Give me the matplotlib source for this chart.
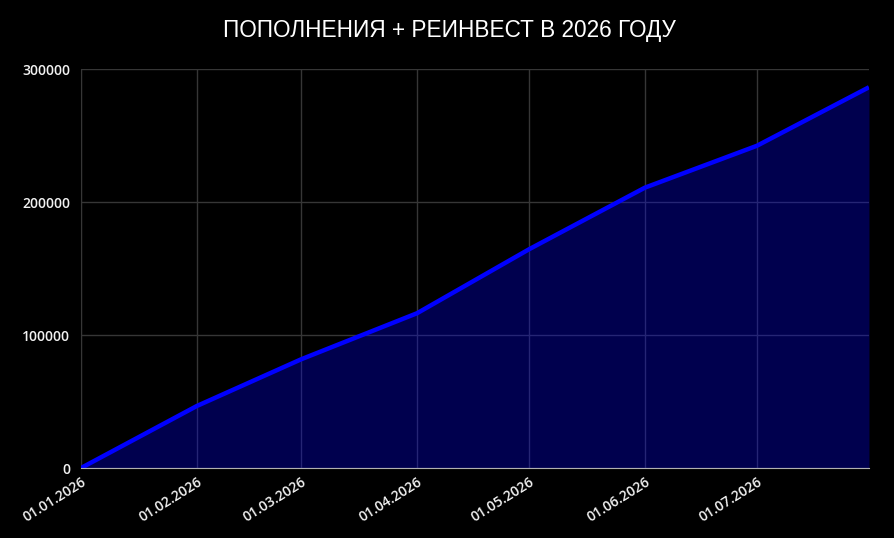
import matplotlib.pyplot as plt
import matplotlib.dates as mdates
import pandas as pd

# data
dates = ['2026-01-01', '2026-02-01', '2026-03-01', '2026-04-01',
         '2026-05-01', '2026-06-01', '2026-07-01', '2026-07-31']
values = [0, 46600, 81800, 116400, 164500, 210800, 242300, 286300]
tick_dates = ['2026-01-01', '2026-02-01', '2026-03-01', '2026-04-01',
              '2026-05-01', '2026-06-01', '2026-07-01']
yticks = [0, 100000, 200000, 300000]
title = 'ПОПОЛНЕНИЯ + РЕИНВЕСТ В 2026 ГОДУ'

x = pd.to_datetime(dates)
xt = pd.to_datetime(tick_dates)

fig = plt.figure(figsize=(8.94, 5.38), dpi=100, facecolor='black')
ax = fig.add_axes([0.0906, 0.1301, 0.8814, 0.7416])
ax.set_facecolor('black')

ax.fill_between(x, values, 0, color='#0000ff', alpha=0.31, linewidth=0, zorder=1)
ax.plot(x, values, color='#0000ff', linewidth=3.2, solid_capstyle='butt', zorder=3)

ax.set_xlim(x[0], x[-1])
ax.set_ylim(0, 300000)
ax.set_xticks(xt)
ax.xaxis.set_major_formatter(mdates.DateFormatter('%d.%m.%Y'))
ax.set_yticks(yticks)

ax.grid(True, color='#363636', linewidth=1, zorder=0)
ax.set_axisbelow(True)

for s in ['top', 'right']:
    ax.spines[s].set_visible(False)
ax.spines['left'].set_color('#363636')
ax.spines['bottom'].set_color('#b0b0b0')
ax.spines['bottom'].set_zorder(4)

ax.tick_params(axis='both', length=0, colors='#f2f2f2', labelsize=10)
ax.tick_params(axis='y', pad=8)
ax.tick_params(axis='x', pad=5)
for lab in ax.get_xticklabels():
    lab.set_rotation(32)
    lab.set_ha('right')
    lab.set_rotation_mode('anchor')
    lab.set_fontfamily('Open Sans')
    lab.set_fontweight('semibold')
for lab in ax.get_yticklabels():
    lab.set_fontfamily('Open Sans')
    lab.set_fontweight('semibold')

fig.text(0.503, 0.944, title, color='white', fontsize=16.3,
         family='Liberation Sans', ha='center', va='center')

fig.savefig('out.png', dpi=100, facecolor='black')
